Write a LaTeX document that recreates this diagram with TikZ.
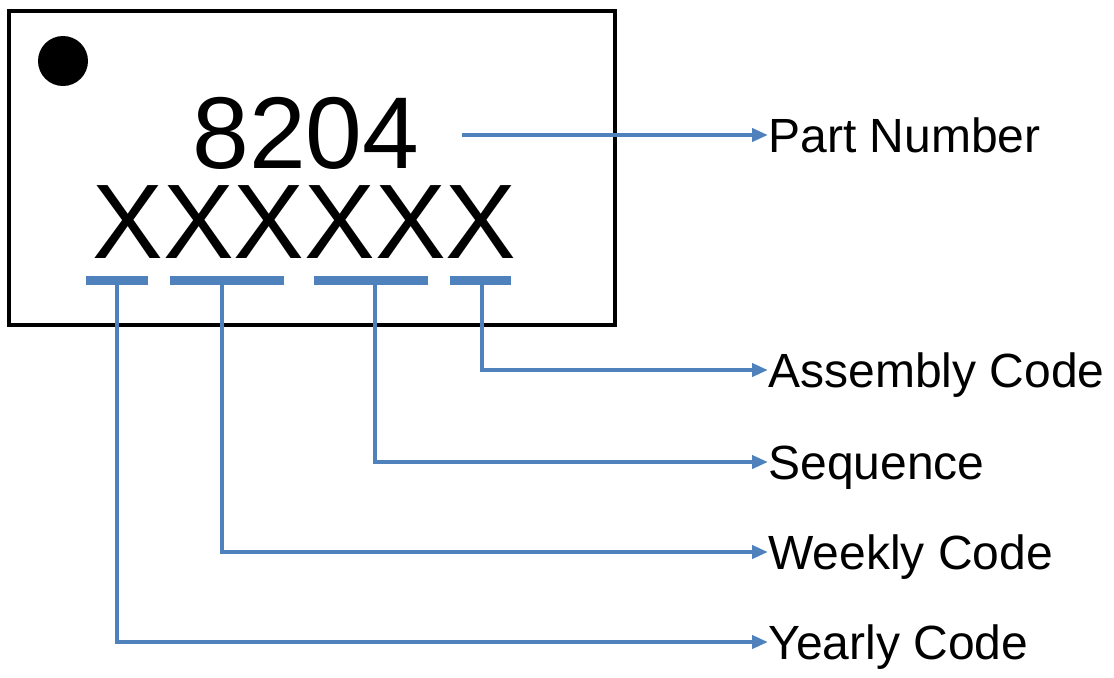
\documentclass[tikz,border=0pt]{standalone}
\usepackage{fontspec}
\setmainfont{Liberation Sans}
\usepackage{tikz}
\usetikzlibrary{arrows.meta,positioning}
\definecolor{mkblue}{RGB}{79,129,189}

\begin{document}
\begin{tikzpicture}[x=0.5pt,y=-0.5pt,
    bar/.style={mkblue,line width=4.5pt},
    lead/.style={mkblue,line width=2.3pt,-{Triangle[length=8pt,width=6.5pt]}},
    marking/.style={anchor=base,inner sep=0pt,text height=36pt,text depth=0pt},
    lbl/.style={anchor=west,inner sep=0pt,text height=17pt,text depth=0pt,font=\fontsize{24}{24}\selectfont}]
  \useasboundingbox (0,0) rectangle (1114,677);
  % package outline
  \draw[line width=1.8pt] (9,11) rectangle (615,325);
  \fill (63,61) circle (12.5pt);
  \node[marking,font=\fontsize{51}{51}\selectfont] (partno) at (306,168) {8204};
  \node[marking,font=\fontsize{53}{53}\selectfont] (code) at (304.5,258) {XXXXXX};
  % underlines
  \draw[bar] (86,280) -- (148,280);
  \draw[bar] (170,280) -- (284,280);
  \draw[bar] (314,280) -- (428,280);
  \draw[bar] (450,280) -- (511,280);
  \coordinate (yr) at (117,280);
  \coordinate (wk) at (222,280);
  \coordinate (sq) at (375,280);
  \coordinate (as) at (482,280);
  \coordinate (pn) at (462,135);
  % labels
  \node[lbl] (part) at (768,135) {Part Number};
  \node[lbl] (asm) at (768,370) {Assembly Code};
  \node[lbl] (seq) at (768,462) {Sequence};
  \node[lbl] (week) at (768,552) {Weekly Code};
  \node[lbl] (year) at (768,642) {Yearly Code};
  % leaders
  \draw[lead] (pn) -- (part.west);
  \draw[lead] (as) |- (asm.west);
  \draw[lead] (sq) |- (seq.west);
  \draw[lead] (wk) |- (week.west);
  \draw[lead] (yr) |- (year.west);
\end{tikzpicture}
\end{document}
